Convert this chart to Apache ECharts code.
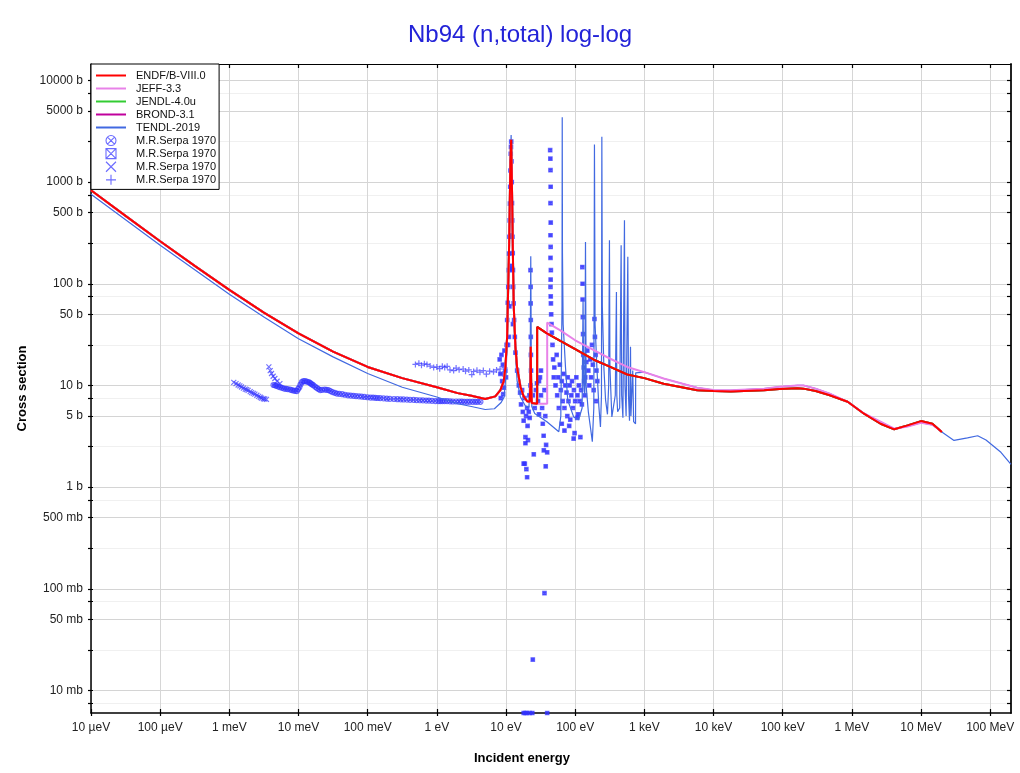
<!DOCTYPE html>
<html><head><meta charset="utf-8">
<script src="https://cdn.jsdelivr.net/npm/echarts@6/dist/echarts.min.js"></script>
<style>html,body{margin:0;padding:0;background:#fff}#c{width:1020px;height:773px}</style>
</head><body><div id="c"></div>
<script>
// ---- tick values and labels ----
const xTicks = [1e-5,1e-4,1e-3,1e-2,1e-1,1,10,100,1e3,1e4,1e5,1e6,1e7,1e8];
const xTickLabels = ['10 µeV','100 µeV','1 meV','10 meV','100 meV','1 eV','10 eV','100 eV','1 keV','10 keV','100 keV','1 MeV','10 MeV','100 MeV'];
const yMajorTicks = [0.01,0.05,0.1,0.5,1,5,10,50,100,500,1000,5000,10000];
const yTickLabels = ['10 mb','50 mb','100 mb','500 mb','1 b','5 b','10 b','50 b','100 b','500 b','1000 b','5000 b','10000 b'];
const yMinorTicks = [0.0075,0.025,0.075,0.25,0.75,2.5,7.5,25,75,250,750,2500,7500];

// ---- evaluated data: [energy (eV), cross section (b)] ----
const endf = [[1e-5,830],[3.16e-5,465],[1e-4,262],[3.16e-4,150],[1e-3,87],[3.16e-3,52],[1e-2,32.5],[3.16e-2,21.5],[0.1,15.2],[0.316,11.8],[1,9.6],[2,8.4],[3.16,7.9],[5,7.35],[7,7.8],[8.3,9.0],[9.27,11],[9.8,15],[10.38,30],[10.7,80],[11.09,240],[11.33,615],[11.58,1600],[11.86,2600],[12.1,1310],[12.39,422],[12.68,136],[12.94,60],[13.68,24],[14.48,15],[16.16,9.7],[18,7.8],[20.2,7.0],[22.0,6.9],[22.5,10],[22.8,24],[23.1,10],[23.6,6.7],[28.2,6.6],[28.21,37.6],[39,32.5],[61,27.4],[100,22.8],[186,17.9],[316,15.3],[565,12.8],[1000,11.8],[1900,10.4],[5800,8.95],[10000,8.8],[17800,8.7],[54000,8.95],[90000,9.2],[163000,9.4],[200000,9.3],[300000,8.8],[480000,8.0],[870000,6.9],[1.5e6,5.27],[2.6e6,4.2],[4.1e6,3.7],[6.4e6,4.05],[1e7,4.46],[1.46e7,4.2],[2e7,3.48]];
const jeff = [[1e-5,830],[3.16e-5,465],[1e-4,262],[3.16e-4,150],[1e-3,87],[3.16e-3,52],[1e-2,32.5],[3.16e-2,21.5],[0.1,15.2],[0.316,11.8],[1,9.6],[2,8.4],[3.16,7.9],[5,7.35],[7,7.8],[8.3,9.0],[9.27,11],[9.8,15],[10.38,30],[10.7,80],[11.09,240],[11.33,615],[11.58,1600],[11.86,2600],[12.1,1310],[12.39,422],[12.68,136],[12.94,60],[13.68,24],[14.48,15],[16.16,9.7],[18,7.8],[20.2,7.0],[22.0,6.9],[22.5,10],[22.8,24],[23.1,10],[23.6,6.7],[28.2,6.6],[39.4,6.6],[39.41,41.5],[61,34.8],[100,27.8],[186,22.2],[316,18.4],[565,15.2],[1000,13.5],[1900,11.7],[5800,9.5],[10000,9.0],[17800,8.95],[54000,9.3],[90000,9.7],[163000,10.0],[200000,10.0],[300000,9.3],[480000,8.3],[870000,6.9],[1.5e6,5.3],[2.6e6,4.4],[4.1e6,3.75],[6.4e6,3.95],[1e7,4.3],[1.46e7,4.1],[2e7,3.5]];
const jendl = endf;
const brond = endf;
const tendl = [[1e-5,760],[3.16e-5,427],[1e-4,239],[3.16e-4,137],[1e-3,78.7],[3.16e-3,47],[1e-2,28.8],[3.16e-2,19.1],[0.1,13.1],[0.316,9.6],[1,7.7],[2,6.6],[3.16,6.2],[5,5.8],[6.8,5.9],[8.5,6.8],[9.4,7.7],[10.0,13],[10.38,25],[10.7,70],[11.09,230],[11.33,600],[11.58,1700],[11.86,2900],[12.1,1350],[12.39,430],[12.68,140],[12.94,60],[13.3,30],[13.68,20],[14.48,11],[16.16,7.7],[19,6.3],[21.5,6.1],[22.4,20],[22.8,186],[23.2,20],[23.6,6.2],[26,5.3],[39,4.4],[58,3.5],[62,5],[64.5,60],[65,4330],[65.5,200],[67,40],[72.5,15],[78,7.2],[95,4.9],[112,4.6],[126,6],[130,68],[133,10],[138,8],[141,258],[144,10],[155,5.5],[166,3.9],[177,2.8],[186,6],[190,2340],[194,40],[206,15],[220,6.2],[232,3.9],[240,8],[243,2790],[247,60],[260,15],[275,7.2],[293,5.2],[305,10],[313,268],[318,15],[339,4.9],[380,8],[395,83],[400,8],[411,5.5],[440,6],[462,239],[470,8],[490,4.8],[516,422],[525,10],[545,5],[577,184],[590,8],[610,4.5],[631,24],[640,5],[680,14],[700,4.4],[746,4.2],[750,13.3],[1000,13.5],[1900,11.7],[5800,9.5],[10000,9.0],[17800,8.95],[54000,9.3],[90000,9.7],[163000,10.0],[200000,10.0],[300000,9.3],[480000,8.3],[870000,6.9],[1.5e6,5.3],[2.6e6,4.4],[4.1e6,3.75],[6.4e6,3.95],[1e7,4.3],[1.46e7,4.1],[2e7,3.48],[3e7,2.88],[4.7e7,3.05],[6.6e7,3.2],[8.7e7,2.9],[1.43e8,2.2],[2e8,1.67]];

// ---- experimental data (M.R.Serpa 1970) ----
const serpaCircle = [[4.35e-3,10.1],[4.6e-3,10.0],[4.8e-3,9.9],[5.1e-3,9.75],[5.43e-3,9.6],[5.8e-3,9.45],[6.2e-3,9.3],[6.6e-3,9.25],[7.0e-3,9.2],[7.58e-3,9.1],[8.0e-3,9.0],[8.5e-3,8.9],[9.0e-3,8.85],[9.48e-3,8.8],[9.9e-3,9.2],[1.03e-2,9.6],[1.07e-2,10.2],[1.12e-2,10.8],[1.18e-2,11.0],[1.25e-2,11.0],[1.32e-2,10.9],[1.40e-2,10.8],[1.46e-2,10.6],[1.52e-2,10.4],[1.58e-2,10.2],[1.65e-2,10.0],[1.75e-2,9.7],[1.85e-2,9.4],[1.95e-2,9.2],[2.06e-2,9.0],[2.2e-2,9.05],[2.4e-2,9.1],[2.55e-2,9.05],[2.72e-2,9.0],[2.9e-2,8.8],[3.1e-2,8.6],[3.35e-2,8.45],[3.6e-2,8.3],[3.9e-2,8.25],[4.3e-2,8.2],[4.7e-2,8.1],[5.2e-2,8.0],[5.7e-2,7.95],[6.25e-2,7.9],[6.8e-2,7.85],[7.5e-2,7.8],[8.2e-2,7.75],[9.0e-2,7.7],[0.1,7.65],[0.11,7.6],[0.12,7.58],[0.13,7.55],[0.14,7.52],[0.152,7.5],[0.17,7.45],[0.19,7.4],[0.21,7.38],[0.24,7.35],[0.27,7.32],[0.3,7.3],[0.33,7.28],[0.37,7.25],[0.41,7.22],[0.461,7.2],[0.51,7.18],[0.57,7.15],[0.63,7.12],[0.7,7.1],[0.77,7.08],[0.85,7.05],[0.95,7.02],[1.05,7.0],[1.12,7.0],[1.2,7.0],[1.3,7.0],[1.41,7.0],[1.55,6.98],[1.7,6.95],[1.9,6.95],[2.1,6.95],[2.3,6.92],[2.5,6.9],[2.75,6.9],[3.0,6.9],[3.3,6.9],[3.6,6.9],[3.9,6.9],[4.27,6.9]];
const serpaBox = [[8.1,18],[8.3,13],[8.6,20],[8.8,11],[9.0,16],[9.3,9.5],[9.5,22],[9.8,14],[10.0,12],[10.2,25],[8.4,7.5],[9.1,8.2],[10.4,44],[10.6,65],[10.8,93],[11.0,136],[11.1,198],[11.2,290],[11.3,420],[11.4,615],[11.5,900],[11.6,1300],[11.7,1900],[11.8,2220],[11.9,2500],[12.0,1600],[12.1,1000],[12.2,620],[12.3,420],[12.4,290],[12.5,200],[12.6,136],[12.7,93],[12.9,64],[13.1,44],[13.4,30],[13.7,21],[11.2,60],[11.5,150],[11.7,300],[11.9,420],[12.2,140],[11.0,30],[10.7,25],[12.6,40],[14.5,14],[15.3,10],[16,8.5],[16.5,6.5],[17.1,9],[17.5,5.5],[18,4.5],[18.5,7.5],[19.1,3.1],[19.5,5],[20.2,6],[20.5,4],[21.3,5.5],[21.8,8],[18.0,1.7],[18.7,1.7],[19.1,2.7],[19.7,1.5],[20.2,1.25],[20.8,2.9],[22,4.8],[22.6,136],[22.7,93],[22.7,64],[22.8,44],[22.8,30],[22.9,20],[23.0,14],[22.6,10],[24.5,8],[25.2,2.1],[26,6],[27,9],[28,10.5],[29,7],[30,5.2],[31,12],[32,8],[33.3,6],[34,4.2],[35,3.2],[35.2,2.3],[36,9],[37,5],[38,2.6],[39.4,2.2],[37.5,1.6],[30,11],[32,14],[43.5,2060],[43.8,1700],[44,1310],[44.2,900],[44,620],[44.3,400],[44,300],[44.2,230],[44,180],[44.5,136],[44.2,110],[44,93],[44.3,75],[44.6,64],[45,50],[45.5,40],[46,33],[47,25],[48,18],[49,12],[50,15],[52,10],[54,20],[55,8],[57,12],[58,6],[60,16],[62,9],[64,11],[66,7],[68,13],[70,6],[72,10],[75,8.5],[77,5],[78,12],[80,7],[83,10],[85,4.6],[88,8],[90,11],[93,6],[96,9],[98,3.4],[100,7],[104,12],[108,8],[110,5.2],[113,10],[116,7],[119,3.1],[122,9],[125,6.5],[127,146],[128,100],[128,70],[129,47],[130,32],[131,20],[133,15],[135,11],[138,8],[140,12],[145,17],[150,22],[155,14],[160,10],[165,18],[170,12],[175,25],[180,16],[185,9],[190,45],[193,30],[198,20],[203,14],[209,11],[200,7],[64,4.2],[70,3.6],[82,4],[95,3.0],[107,4.8],[24.4,0.0201],[36,0.0906],[18,0.006],[19,0.006],[20,0.006],[22,0.006],[24,0.006],[39.4,0.006]];
const serpaCross = [[1.16e-3,10.7],[1.25e-3,10.4],[1.34e-3,10.1],[1.42e-3,9.9],[1.50e-3,9.65],[1.6e-3,9.4],[1.7e-3,9.2],[1.78e-3,9.1],[1.87e-3,8.95],[2.0e-3,8.7],[2.1e-3,8.5],[2.22e-3,8.35],[2.34e-3,8.2],[2.5e-3,8.0],[2.65e-3,7.8],[2.8e-3,7.65],[2.92e-3,7.5],[3.1e-3,7.4],[3.25e-3,7.35],[3.44e-3,7.3],[3.73e-3,15.2],[3.9e-3,14.0],[4.07e-3,13.1],[4.3e-3,12.3],[4.55e-3,11.7],[4.9e-3,11.0],[5.38e-3,10.4]];
const serpaPlus = [[0.49,16.1],[0.55,16.5],[0.6,15.8],[0.66,16.3],[0.72,16.1],[0.8,15.5],[0.9,15.0],[1.0,15.2],[1.1,14.6],[1.2,15.4],[1.3,15.0],[1.41,15.4],[1.55,14.2],[1.75,14.0],[1.9,14.8],[2.1,14.3],[2.4,14.5],[2.6,13.8],[2.9,14.2],[3.2,12.8],[3.4,13.7],[3.8,14.1],[4.2,13.5],[4.7,14.0],[5.2,12.9],[5.8,13.8],[6.6,13.6],[7.3,14.2],[8.2,14.5],[9.0,13.0],[9.5,15.0]];

const FONT = 'Liberation Sans, Arial, Helvetica, sans-serif';
const serpaColor = 'rgba(50,50,255,0.85)';
const symCircle = 'path://M5,0 A5,5 0 1,1 4.99,0 Z M1.5,1.5 L8.5,8.5 M8.5,1.5 L1.5,8.5';
const symBox = 'path://M0,0 L10,0 L10,10 L0,10 Z M0,0 L10,10 M10,0 L0,10';
const symCross = 'path://M0,0 L10,10 M10,0 L0,10';
const symPlus = 'path://M5,0 L5,10 M0,5 L10,5';
const lineIcon = 'path://M0,0 L30,0 L30,2 L0,2 Z';
const legendNames = {s1:'M.R.Serpa 1970', s2:'M.R.Serpa 1970', s3:'M.R.Serpa 1970', s4:'M.R.Serpa 1970'};

const YMIN = 0.006, YMAX = 14500, XMIN = 1e-5, XMAX = 2e8;
function near(a, b){ return Math.abs(a-b) <= Math.abs(b)*1e-6; }
function xLabel(v){ const i = xTicks.findIndex(t => near(v,t)); return i>=0 ? xTickLabels[i] : ''; }
function yLabel(v){ const i = yMajorTicks.findIndex(t => near(v,t)); return i>=0 ? yTickLabels[i] : ''; }

const allY = yMajorTicks.concat(yMinorTicks);
function yAx(extra){ return Object.assign({type:'log', logBase:10, min:YMIN, max:YMAX, axisLabel:{show:false}, splitLine:{show:false}, axisLine:{show:false}, axisTick:{show:false}}, extra); }
function xAx(extra){ return Object.assign({type:'log', logBase:10, min:XMIN, max:XMAX, axisLabel:{show:false}, splitLine:{show:false}, axisLine:{show:false}, axisTick:{show:false}}, extra); }

function lineSeries(name, data, color, width){
  return {name, type:'line', data, xAxisIndex:0, yAxisIndex:0, symbol:'none', showSymbol:false, lineStyle:{color, width}, itemStyle:{color}, animation:false, silent:true};
}
function scatterSeries(name, data, symbol, size, fill){
  return {name, type:'scatter', data, xAxisIndex:0, yAxisIndex:0, symbol, symbolSize:size, itemStyle:{color:fill ? serpaColor : 'rgba(0,0,0,0)', borderColor:serpaColor, borderWidth:1.2}, animation:false, silent:true};
}
const emptyFill = {color:'rgba(0,0,0,0)', borderColor:'rgb(70,70,255)', borderWidth:1.1};

const chart = echarts.init(document.getElementById('c'));
chart.setOption({
  backgroundColor:'#ffffff',
  animation:false,
  title:{text:'Nb94 (n,total) log-log', left:403, top:18, textStyle:{fontFamily:FONT, fontSize:24, fontWeight:'normal', color:'#2323d8'}},
  grid:{left:91, right:9, top:64, bottom:60, containLabel:false},
  legend:{
    orient:'vertical', left:91, top:64, padding:[6,3,4,5], itemGap:2, itemWidth:30, itemHeight:10,
    backgroundColor:'#ffffff', borderColor:'#000000', borderWidth:1, borderRadius:0,
    selectedMode:false, z:10,
    textStyle:{fontFamily:FONT, fontSize:11, color:'#111', padding:[0,0,0,5]},
    data:[
      {name:'ENDF/B-VIII.0', icon:lineIcon},
      {name:'JEFF-3.3', icon:lineIcon},
      {name:'JENDL-4.0u', icon:lineIcon},
      {name:'BROND-3.1', icon:lineIcon},
      {name:'TENDL-2019', icon:lineIcon},
      {name:'s1', itemStyle:emptyFill},
      {name:'s2', itemStyle:emptyFill},
      {name:'s3', itemStyle:emptyFill},
      {name:'s4', itemStyle:emptyFill}
    ],
    formatter: n => legendNames[n] || n
  },
  xAxis:[
    xAx({position:'bottom', axisLine:{show:true, onZero:false, lineStyle:{color:'#000', width:1.5}},
      axisTick:{show:true, length:3, lineStyle:{color:'#000', width:1.2}, customValues:xTicks},
      axisLabel:{show:true, customValues:xTicks, formatter:xLabel, margin:9, fontFamily:FONT, fontSize:12, color:'#222'},
      splitLine:{show:true, lineStyle:{color:'#d6d6d6', width:1}},
      name:'Incident energy', nameLocation:'middle', nameGap:39,
      nameTextStyle:{fontFamily:FONT, fontSize:13, fontWeight:'bold', color:'#000', padding:[0,58,0,0]}}),
    xAx({position:'bottom', axisTick:{show:true, inside:true, length:4, lineStyle:{color:'#000', width:1.2}, customValues:xTicks}}),
    xAx({position:'top', axisLine:{show:true, onZero:false, lineStyle:{color:'#000', width:1}},
      axisTick:{show:true, inside:true, length:4, lineStyle:{color:'#000', width:1.2}, customValues:xTicks}})
  ],
  yAxis:[
    yAx({position:'left', axisLine:{show:true, onZero:false, lineStyle:{color:'#000', width:1.5}},
      axisTick:{show:true, length:3, lineStyle:{color:'#000', width:1.2}, customValues:yMajorTicks},
      axisLabel:{show:true, customValues:yMajorTicks, formatter:yLabel, margin:8, fontFamily:FONT, fontSize:12, color:'#222'},
      splitLine:{show:true, lineStyle:{color:'#d4d4d4', width:1}},
      name:'Cross section', nameLocation:'middle', nameGap:54, nameRotate:90,
      nameTextStyle:{fontFamily:FONT, fontSize:13, fontWeight:'bold', color:'#000'}}),
    yAx({position:'left', axisTick:{show:true, length:3, lineStyle:{color:'#000', width:1.2}, customValues:yMinorTicks},
      splitLine:{show:true, lineStyle:{color:'#f0f0f0', width:1}}}),
    yAx({position:'left', axisTick:{show:true, inside:true, length:2, lineStyle:{color:'#000', width:1.2}, customValues:allY}}),
    yAx({position:'right', axisLine:{show:true, onZero:false, lineStyle:{color:'#222', width:2}},
      axisTick:{show:true, inside:true, length:4, lineStyle:{color:'#000', width:1.2}, customValues:allY}})
  ],
  series:[
    scatterSeries('s1', serpaCircle, symCircle, 5, false),
    scatterSeries('s2', serpaBox, symBox, 3.5, true),
    scatterSeries('s3', serpaCross, symCross, 5, false),
    scatterSeries('s4', serpaPlus, symPlus, 6, false),
    lineSeries('TENDL-2019', tendl, '#4169e1', 1.2),
    lineSeries('BROND-3.1', brond, '#c0009c', 2),
    lineSeries('JENDL-4.0u', jendl, '#33cc33', 2),
    lineSeries('JEFF-3.3', jeff, '#e882e8', 2),
    lineSeries('ENDF/B-VIII.0', endf, '#ff0000', 2)
  ]
});
</script></body></html>
